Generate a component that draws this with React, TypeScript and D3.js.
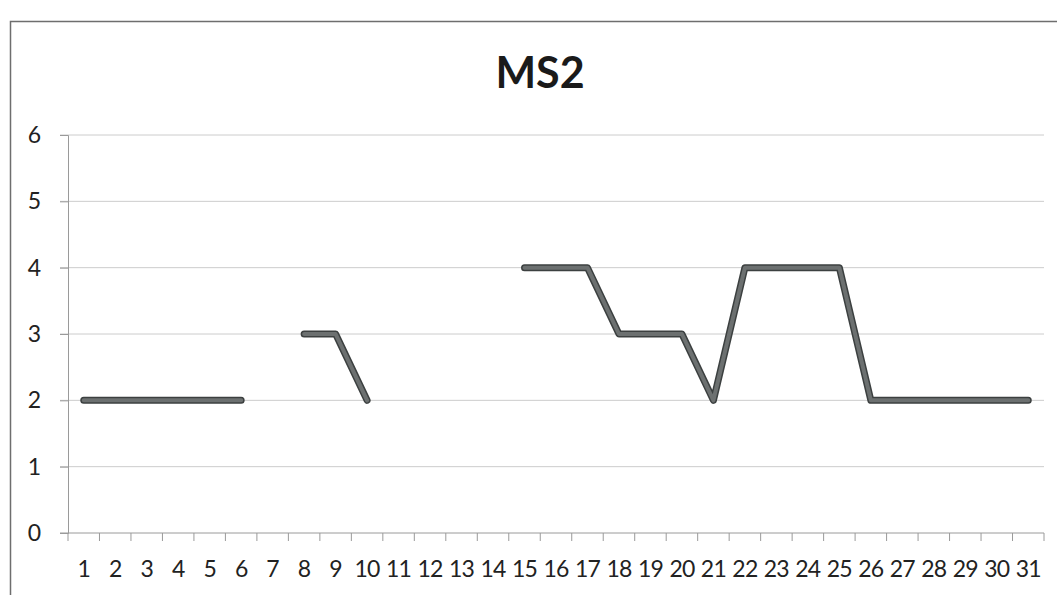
import React, { useEffect, useRef } from 'react';
import * as d3 from 'd3';

const WIDTH = 1057;
const HEIGHT = 595;
const MARGIN = { top: 135, right: 13, bottom: 62, left: 68 };

const TITLE = 'MS2';
const days = d3.range(1, 32).map(String);
// null = no reading that day
const values: (number | null)[] = [
    2, 2, 2, 2, 2, 2, null, 3, 3, 2,
    null, null, null, null, 4, 4, 4, 3, 3, 3,
    2, 4, 4, 4, 4, 2, 2, 2, 2, 2, 2,
];
const yTicks = [0, 1, 2, 3, 4, 5, 6];

const FONT = 'Lato, "Open Sans", sans-serif';

export default function App() {
    const svgRef = useRef<SVGSVGElement>(null);

    useEffect(() => {
        const svg = d3.select(svgRef.current);
        svg.selectAll('*').remove();

        const plotWidth = WIDTH - MARGIN.left - MARGIN.right;
        const plotHeight = HEIGHT - MARGIN.top - MARGIN.bottom;

        // chart frame (only left and top edges are inside the scan)
        svg.append('rect')
            .attr('x', 10.5)
            .attr('y', 21.5)
            .attr('width', 1100)
            .attr('height', 700)
            .attr('fill', 'none')
            .attr('stroke', '#6e6e6e')
            .attr('stroke-width', 1.5);

        svg.append('text')
            .attr('x', 540)
            .attr('y', 88)
            .attr('text-anchor', 'middle')
            .attr('font-family', FONT)
            .attr('font-weight', 700)
            .attr('font-size', 43)
            .attr('fill', '#1a1a1a')
            .text(TITLE);

        const g = svg.append('g')
            .attr('transform', `translate(${MARGIN.left},${MARGIN.top})`);

        const x = d3.scaleBand<string>().domain(days).range([0, plotWidth]);
        const y = d3.scaleLinear().domain([0, 6]).range([plotHeight, 0]);

        // gridlines
        g.append('g')
            .selectAll('line')
            .data(yTicks.slice(1))
            .join('line')
            .attr('x1', -8)
            .attr('x2', plotWidth)
            .attr('y1', (d) => y(d))
            .attr('y2', (d) => y(d))
            .attr('stroke', '#cccccc')
            .attr('stroke-width', 1);

        // y axis
        const yAxis = g.append('g')
            .call(d3.axisLeft(y).tickValues(yTicks).tickSize(8).tickPadding(19).tickFormat(d3.format('d')));
        yAxis.select('.domain').attr('stroke', '#9a9a9a');
        yAxis.selectAll('.tick line').attr('stroke', '#9a9a9a');
        yAxis.selectAll('text')
            .attr('font-family', FONT)
            .attr('font-size', 23)
            .attr('fill', '#222');

        // x axis with ticks on band boundaries
        const xAxis = g.append('g').attr('transform', `translate(0,${plotHeight})`);
        xAxis.append('line')
            .attr('x1', -8)
            .attr('x2', plotWidth)
            .attr('stroke', '#9a9a9a');
        xAxis.selectAll('line.tk')
            .data(d3.range(days.length + 1))
            .join('line')
            .attr('class', 'tk')
            .attr('x1', (i) => i * x.step())
            .attr('x2', (i) => i * x.step())
            .attr('y1', 0)
            .attr('y2', 8)
            .attr('stroke', '#9a9a9a');
        xAxis.selectAll('text')
            .data(days)
            .join('text')
            .attr('x', (d) => (x(d) ?? 0) + x.bandwidth() / 2)
            .attr('y', 44)
            .attr('text-anchor', 'middle')
            .attr('font-family', FONT)
            .attr('font-size', 23)
            .attr('fill', '#222')
            .attr('letter-spacing', -0.8)
            .text((d) => d);

        // series line, broken where there is no value
        const pts = days.map((d, i) => ({ d, v: values[i] }));
        const line = d3.line<{ d: string; v: number | null }>()
            .defined((p) => p.v !== null)
            .x((p) => (x(p.d) ?? 0) + x.bandwidth() / 2)
            .y((p) => y(p.v as number));

        g.append('path')
            .datum(pts)
            .attr('fill', 'none')
            .attr('stroke', '#3c4040')
            .attr('stroke-width', 7)
            .attr('stroke-linecap', 'round')
            .attr('stroke-linejoin', 'round')
            .attr('d', line);
        g.append('path')
            .datum(pts)
            .attr('fill', 'none')
            .attr('stroke', '#6c7070')
            .attr('stroke-width', 4)
            .attr('stroke-linecap', 'round')
            .attr('stroke-linejoin', 'round')
            .attr('d', line);
    }, []);

    return (
        <svg
            ref={svgRef}
            width={WIDTH}
            height={HEIGHT}
            style={{ position: 'absolute', left: 0, top: 0, background: '#fff' }}
        />
    );
}
